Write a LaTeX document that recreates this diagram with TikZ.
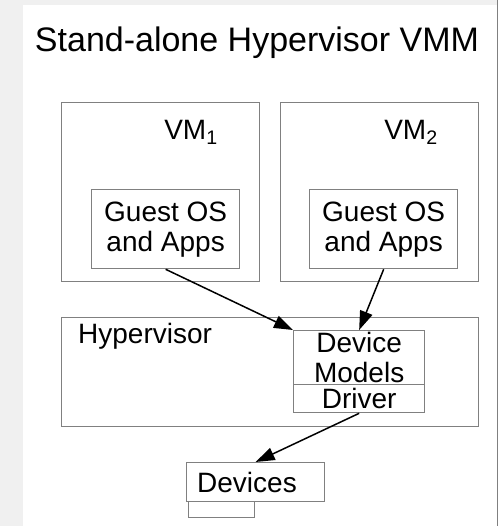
\documentclass[tikz,border=0pt]{standalone}
\usepackage{fontspec}
\setmainfont{Liberation Sans}
\usetikzlibrary{arrows.meta}
\definecolor{boxgray}{RGB}{128,128,128}
\definecolor{pagegray}{RGB}{240,240,240}
\begin{document}
\begin{tikzpicture}[x=1pt,y=-1pt,
  box/.style={draw=boxgray,line width=1.3pt,inner sep=0pt,anchor=north west},
  lbl/.style={font=\fontsize{28}{30}\selectfont,inner sep=0pt},
  link/.style={line width=1.5pt,-{Triangle[length=19pt,width=13pt]}}]
\useasboundingbox (0,0) rectangle (498,526);
% page background and white panel
\fill[pagegray] (0,0) rectangle (498,526);
\fill[white] (23,5) rectangle (497,526);
\draw[boxgray,line width=1pt] (497,0) -- (497,526);

% title
\node[font=\fontsize{34}{36}\selectfont,inner sep=0pt] (title) at (257,43) {Stand-alone Hypervisor VMM};

% virtual machines
\node[box,minimum width=198pt,minimum height=179pt] (vm1) at (61,102) {};
\node[box,minimum width=198pt,minimum height=179pt] (vm2) at (280,102) {};
\node[lbl] (vm1l) at (191,132) {VM\textsubscript{1}};
\node[lbl] (vm2l) at (411,132) {VM\textsubscript{2}};
\node[box,lbl,align=center,minimum width=148pt,minimum height=79pt] (g1) at (91,189) {Guest OS\\and Apps};
\node[box,lbl,align=center,minimum width=148pt,minimum height=79pt] (g2) at (309,189) {Guest OS\\and Apps};

% hypervisor layer
\node[box,minimum width=417pt,minimum height=109pt] (hv) at (61,317) {};
\node[lbl,anchor=west] (hvl) at (78,336) {Hypervisor};
\node[box,lbl,align=center,minimum width=131pt,minimum height=54pt] (dm) at (293,330) {Device\\Models};
\node[box,lbl,minimum width=131pt,minimum height=28pt] (drv) at (293,384) {Driver};

% physical devices
\node[box,minimum width=138pt,minimum height=39pt] (dev) at (186,462) {};
\node[lbl,anchor=west] (devl) at (197,482) {Devices};
\node[box,minimum width=66pt,minimum height=16pt] (devb) at (188,501) {};

% connectors
\draw[link] (g1.south) -- (dm.north west);
\draw[link] (g2.south) -- (dm.north);
\draw[link] (drv.south) -- (dev.north);
\end{tikzpicture}
\end{document}
